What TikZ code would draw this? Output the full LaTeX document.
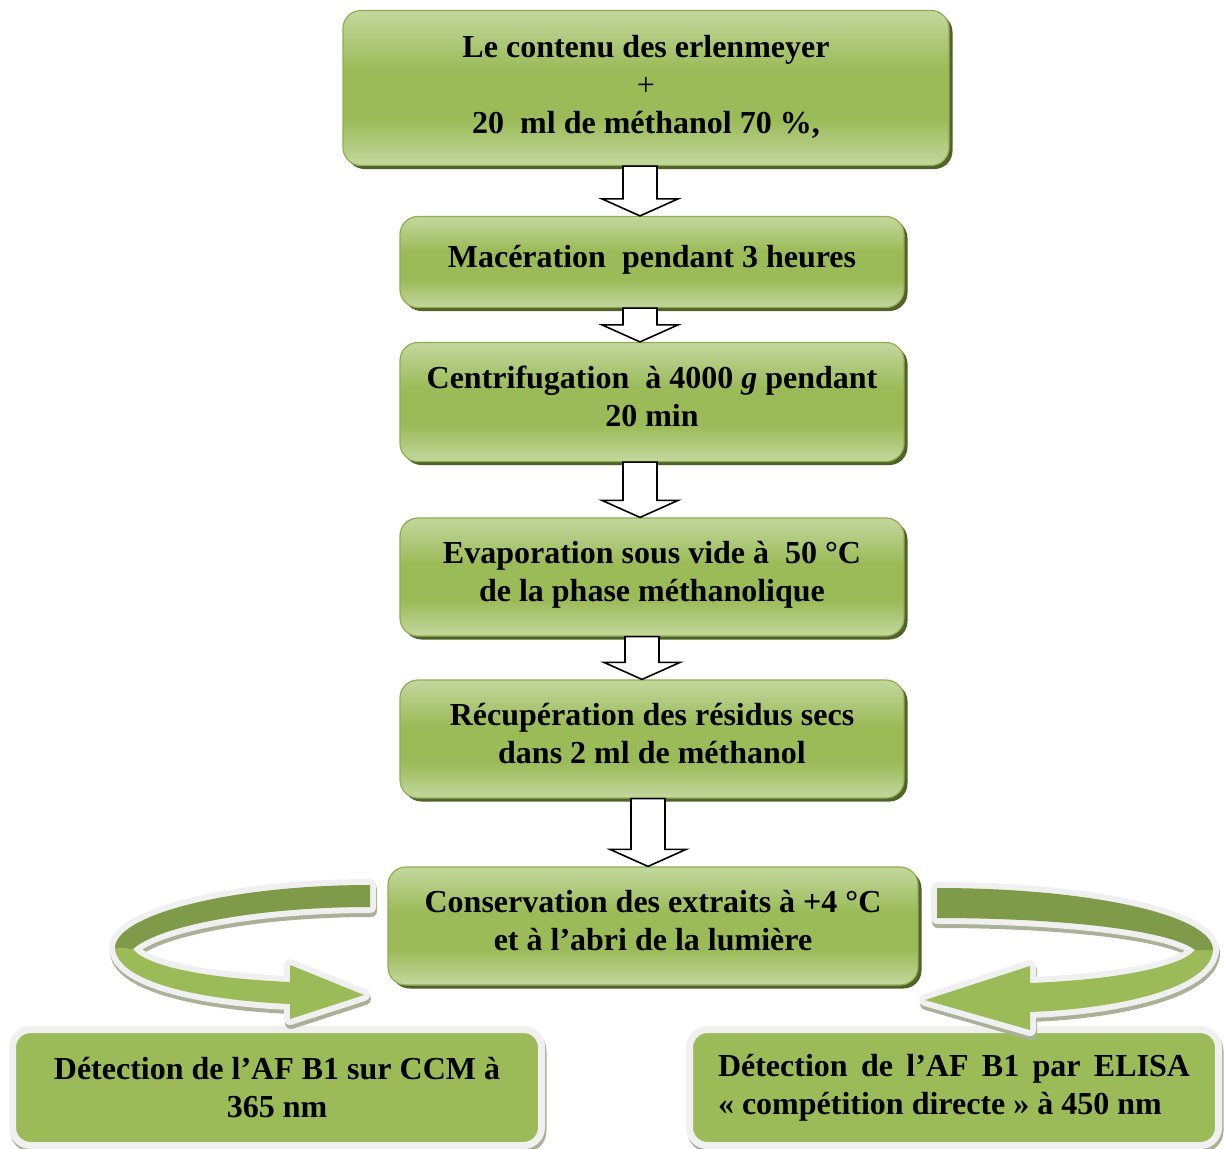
\documentclass[tikz,border=0pt]{standalone}
\usepackage{fontspec}
\setmainfont{Liberation Serif}
\usetikzlibrary{calc,shadows}

\definecolor{gLight}{HTML}{C4D79E}
\definecolor{gMid}{HTML}{9BBB59}
\definecolor{gDark}{HTML}{7F9A48}
\definecolor{gShadow}{HTML}{4F6228}
\definecolor{gEdge}{HTML}{8FAE50}
\definecolor{rim}{HTML}{F0F0F0}
\definecolor{ribShadow}{HTML}{A9B198}

% light at the top and bottom edges, full green through the middle
\pgfdeclareverticalshading{stepshade}{100bp}{color(0bp)=(gLight); color(25bp)=(gLight); color(40bp)=(gMid); color(56bp)=(gMid); color(75bp)=(gLight); color(100bp)=(gLight)}

% hollow block arrow from the bottom of one box to the top of the next
\newcommand\flowarrow[3][0]{%
  \draw[draw=black, fill=white, line width=1.6pt, line join=miter]
    let \p1=($(#2.south)+(#1,0)$), \p2=($(#3.north)+(#1,0)$) in
    (\x1-17pt,\y1) -- (\x1+17pt,\y1) -- (\x1+17pt,\y2+17pt) -- (\x1+38pt,\y2+17pt)
    -- (\x1,\y2) -- (\x1-38pt,\y2+17pt) -- (\x1-17pt,\y2+17pt) -- cycle;}

% twisted ribbon arrow: #1 is the back (dark) face, #2 the front face with its head
\newcommand\ribbonarrow[2]{%
  \begin{scope}[shift={(1,4)}]
    \filldraw[ribShadow, line width=12pt, line join=round] #1;
    \filldraw[ribShadow, line width=12pt, line join=round] #2;
  \end{scope}
  \draw[rim, line width=12pt, line join=round] #1;
  \draw[rim, line width=12pt, line join=round] #2;
  \fill[gMid] #2;
  \fill[gDark] #1;}

\tikzset{
  txt/.style={font=\fontsize{32}{38}\selectfont\bfseries, align=center},
  stepbox/.style={txt, rounded corners=18pt, draw=gEdge, line width=1.2pt,
    shade, shading=stepshade, inner sep=0pt, text depth=12pt,
    drop shadow={shadow xshift=3.5pt, shadow yshift=-3.5pt, fill=gShadow, opacity=1}},
  resultbox/.style={txt, rounded corners=18pt, fill=gMid, draw=rim, line width=7pt,
    inner sep=0pt,
    preaction={draw=ribShadow, fill=ribShadow, line width=7pt,
      transform canvas={shift={(1.5pt,-3.5pt)}}}}
}

\begin{document}
\begin{tikzpicture}[x=1pt, y=-1pt]
\useasboundingbox (0,0) rectangle (1224,1149);

\node[stepbox, minimum width=606pt, minimum height=155pt, text depth=7pt] (b1) at (646,88)
  {Le contenu des erlenmeyer\\{\mdseries +}\\20~ ml de méthanol 70 \%,};
\node[stepbox, minimum width=504pt, minimum height=91pt] (b2) at (652,262)
  {Macération~ pendant 3 heures};
\node[stepbox, minimum width=504pt, minimum height=119pt] (b3) at (652,402)
  {Centrifugation~ à 4000 \textit{g} pendant\\20 min};
\node[stepbox, minimum width=504pt, minimum height=118pt] (b4) at (652,577)
  {Evaporation sous vide à~ 50 °C\\de la phase méthanolique};
\node[stepbox, minimum width=504pt, minimum height=118pt] (b5) at (652,739)
  {Récupération des résidus secs\\dans 2 ml de méthanol};
\node[stepbox, minimum width=530pt, minimum height=118pt] (b6) at (653,926)
  {Conservation des extraits à +4 °C\\et à l’abri de la lumière};

\node[resultbox, minimum width=529pt, minimum height=116pt] (b7) at (277,1087.5)
  {Détection de l’AF B1 sur CCM à\\365 nm};
\node[resultbox, minimum width=529pt, minimum height=116pt, align=left] (b8) at (954,1087.5)
  {\makebox[472pt][s]{Détection de l’AF B1 par ELISA}\\« compétition directe » à 450 nm};

\flowarrow[-6]{b1}{b2}
\flowarrow[-12]{b2}{b3}
\flowarrow[-12]{b3}{b4}
\flowarrow[-10]{b4}{b5}
\flowarrow[-4]{b5}{b6}

% curved ribbons leading from the stored extracts to both detections
\ribbonarrow
  {(370,885) .. controls (230,885) and (115,915) .. (115,948) -- (133,949)
     .. controls (160,925) and (260,907) .. (370,907) -- cycle}
  {(115,948) .. controls (117,982) and (200,1000) .. (290,1004) -- (290,1019)
     -- (364,995) -- (290,965) -- (290,982) .. controls (200,978) and (145,965)
     .. (133,949) -- cycle}
\ribbonarrow
  {(937,888) .. controls (1090,888) and (1213,915) .. (1213,950) -- (1195,950)
     .. controls (1170,930) and (1060,918) .. (937,918) -- cycle}
  {(1213,950) .. controls (1211,985) and (1130,1008) .. (1030,1012) -- (1030,1030)
     -- (925,1000) -- (1030,966) -- (1030,983) .. controls (1110,980) and (1180,968)
     .. (1195,950) -- cycle}
\end{tikzpicture}
\end{document}
